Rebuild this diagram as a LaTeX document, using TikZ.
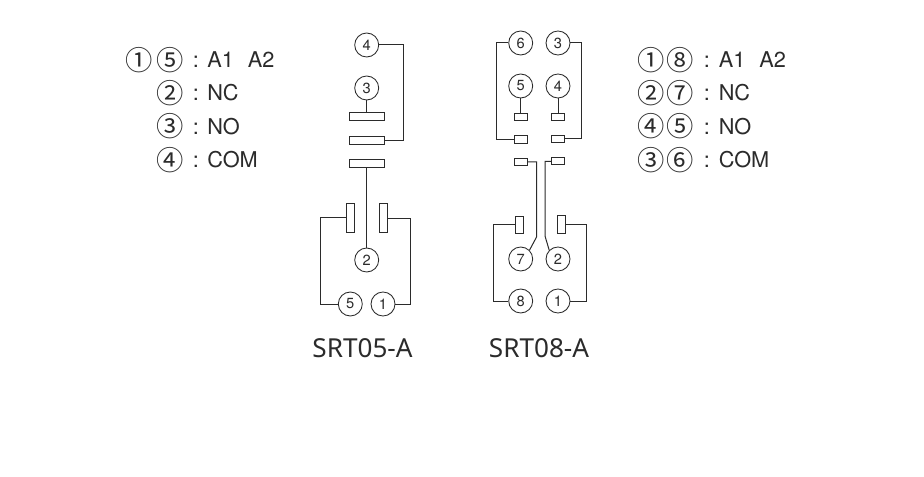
\documentclass[tikz,border=0pt]{standalone}
\usepackage{fontspec}
\setmainfont{TeX Gyre Heros}
\newfontfamily\circfont{Noto Sans CJK SC}
\newfontfamily\titlefont{Noto Sans}
\definecolor{ink}{HTML}{2B2B2B}
\tikzset{
  wire/.style={draw=ink,line width=0.75pt},
  pin/.style={circle,draw=ink,line width=0.65pt,minimum size=18pt,inner sep=0pt,font=\fontsize{11}{12}\selectfont,text=ink},
  contact/.style={rectangle,draw=ink,line width=0.75pt,fill=white,inner sep=0pt},
  hbar/.style={contact,minimum width=26pt,minimum height=6pt},
  hpad/.style={contact,minimum width=10pt,minimum height=5.5pt},
  vbar/.style={contact,minimum width=6pt,minimum height=21.5pt},
  vpad/.style={contact,minimum width=6pt,minimum height=13.2pt},
  glyph/.style={inner sep=0pt,font=\circfont\fontsize{20.5}{22}\selectfont,text=ink},
  legend/.style={anchor=base west,inner sep=0pt,font=\fontsize{16.3}{18}\selectfont,text=ink},
  colon/.style={anchor=base,inner sep=0pt,font=\fontsize{16.3}{18}\selectfont,text=ink},
  title/.style={inner sep=0pt,font=\titlefont\fontsize{19.6}{22}\selectfont,text=ink}
}
\begin{document}
\begin{tikzpicture}[x=0.75pt,y=-0.75pt]
\path[use as bounding box,fill=white] (0,0) rectangle (924,477);
% left legend
\node[glyph] (la1) at (139,60) {①};
\node[glyph] (la5) at (170,60) {⑤};
\node[colon] (lc1) at (196,68) {:};
\node[legend] (lt1) at (207,68) {A1\hspace{0.65em}A2};
\node[glyph] (la2) at (170,93) {②};
\node[colon] (lc2) at (196,101) {:};
\node[legend] (lt2) at (207,101) {NC};
\node[glyph] (la3) at (170,126.5) {③};
\node[colon] (lc3) at (196,134.5) {:};
\node[legend] (lt3) at (207,134.5) {NO};
\node[glyph] (la4) at (170,160) {④};
\node[colon] (lc4) at (196,168) {:};
\node[legend] (lt4) at (207,168) {COM};
% right legend
\node[glyph] (ra1) at (651.5,60) {①};
\node[glyph] (ra8) at (680,60) {⑧};
\node[colon] (rc1) at (707,68) {:};
\node[legend] (rt1) at (718.5,68) {A1\hspace{0.65em}A2};
\node[glyph] (ra2) at (651.5,93) {②};
\node[glyph] (ra7) at (680,93) {⑦};
\node[colon] (rc2) at (707,101) {:};
\node[legend] (rt2) at (718.5,101) {NC};
\node[glyph] (ra4) at (651.5,126.5) {④};
\node[glyph] (ra5) at (680,126.5) {⑤};
\node[colon] (rc3) at (707,134.5) {:};
\node[legend] (rt3) at (718.5,134.5) {NO};
\node[glyph] (ra3) at (651.5,160) {③};
\node[glyph] (ra6) at (680,160) {⑥};
\node[colon] (rc4) at (707,168) {:};
\node[legend] (rt4) at (718.5,168) {COM};
% SRT05-A
\node[pin] (a4) at (366.7,45) {4};
\node[pin] (a3) at (366.7,88) {3};
\node[pin] (a2) at (366.7,260) {2};
\node[pin] (a5) at (350.3,304) {5};
\node[pin] (a1) at (383,304) {1};
\node[hbar] (ab3) at (367,116.7) {};
\node[hbar] (ab4) at (367,140.2) {};
\node[hbar] (abc) at (367,163.5) {};
\node[vbar] (avl) at (350.3,217.8) {};
\node[vbar] (avr) at (383.5,218.3) {};
\coordinate (ac1) at (403.3,45);
\coordinate (ac2) at (403.3,140.2);
\coordinate (ac3) at (320,217.8);
\coordinate (ac4) at (320,304);
\coordinate (ac5) at (410.3,218.3);
\coordinate (ac6) at (410.3,304);
\draw[wire] (a4.east) -- (ac1) -- (ac2) -- (ab4.east);
\draw[wire] (a3.south) -- (a3.south |- ab3.north);
\draw[wire] (abc.south -| a2.north) -- (a2.north);
\draw[wire] (avl.west) -- (ac3) -- (ac4) -- (a5.west);
\draw[wire] (avr.east) -- (ac5) -- (ac6) -- (a1.east);
\node[title] (at) at (362.5,348) {SRT05-A};
% SRT08-A
\node[pin] (b6) at (520.7,43) {6};
\node[pin] (b3) at (558,43) {3};
\node[pin] (b5) at (520.7,86) {5};
\node[pin] (b4) at (558,86) {4};
\node[pin] (b7) at (520.7,259) {7};
\node[pin] (b2) at (558,259) {2};
\node[pin] (b8) at (520.7,301) {8};
\node[pin] (b1) at (558,301) {1};
\node[hpad] (bp5) at (520.8,117.3) {};
\node[hpad] (bp4) at (558.3,117.3) {};
\node[hpad] (bp6) at (520.8,139.5) {};
\node[hpad] (bp3) at (558.3,139) {};
\node[hpad] (bp7) at (520.8,162) {};
\node[hpad] (bp2) at (558.3,161.3) {};
\node[vpad] (bvl) at (519.5,225) {};
\node[vpad] (bvr) at (561.3,224.3) {};
\coordinate (bc1) at (496.3,43);
\coordinate (bc2) at (496.3,139.5);
\coordinate (bc3) at (581.3,43);
\coordinate (bc4) at (581.3,139);
\coordinate (bc5) at (536.7,162);
\coordinate (bc6) at (536.7,236.7);
\coordinate (bc7) at (545,161.3);
\coordinate (bc8) at (545,236);
\coordinate (bc9) at (493.3,225);
\coordinate (bc10) at (493.3,301);
\coordinate (bc11) at (586.7,224.3);
\coordinate (bc12) at (586.7,301);
\draw[wire] (b6.west) -- (bc1) -- (bc2) -- (bp6.west);
\draw[wire] (b3.east) -- (bc3) -- (bc4) -- (bp3.east);
\draw[wire] (b5.south) -- (b5.south |- bp5.north);
\draw[wire] (b4.south) -- (b4.south |- bp4.north);
\draw[wire] (bp7.east) -- (bc5) -- (bc6) -- (b7.north east);
\draw[wire] (bp2.west) -- (bc7) -- (bc8) -- (b2.north west);
\draw[wire] (bvl.west) -- (bc9) -- (bc10) -- (b8.west);
\draw[wire] (bvr.east) -- (bc11) -- (bc12) -- (b1.east);
\node[title] (bt) at (539,348) {SRT08-A};
\end{tikzpicture}
\end{document}
